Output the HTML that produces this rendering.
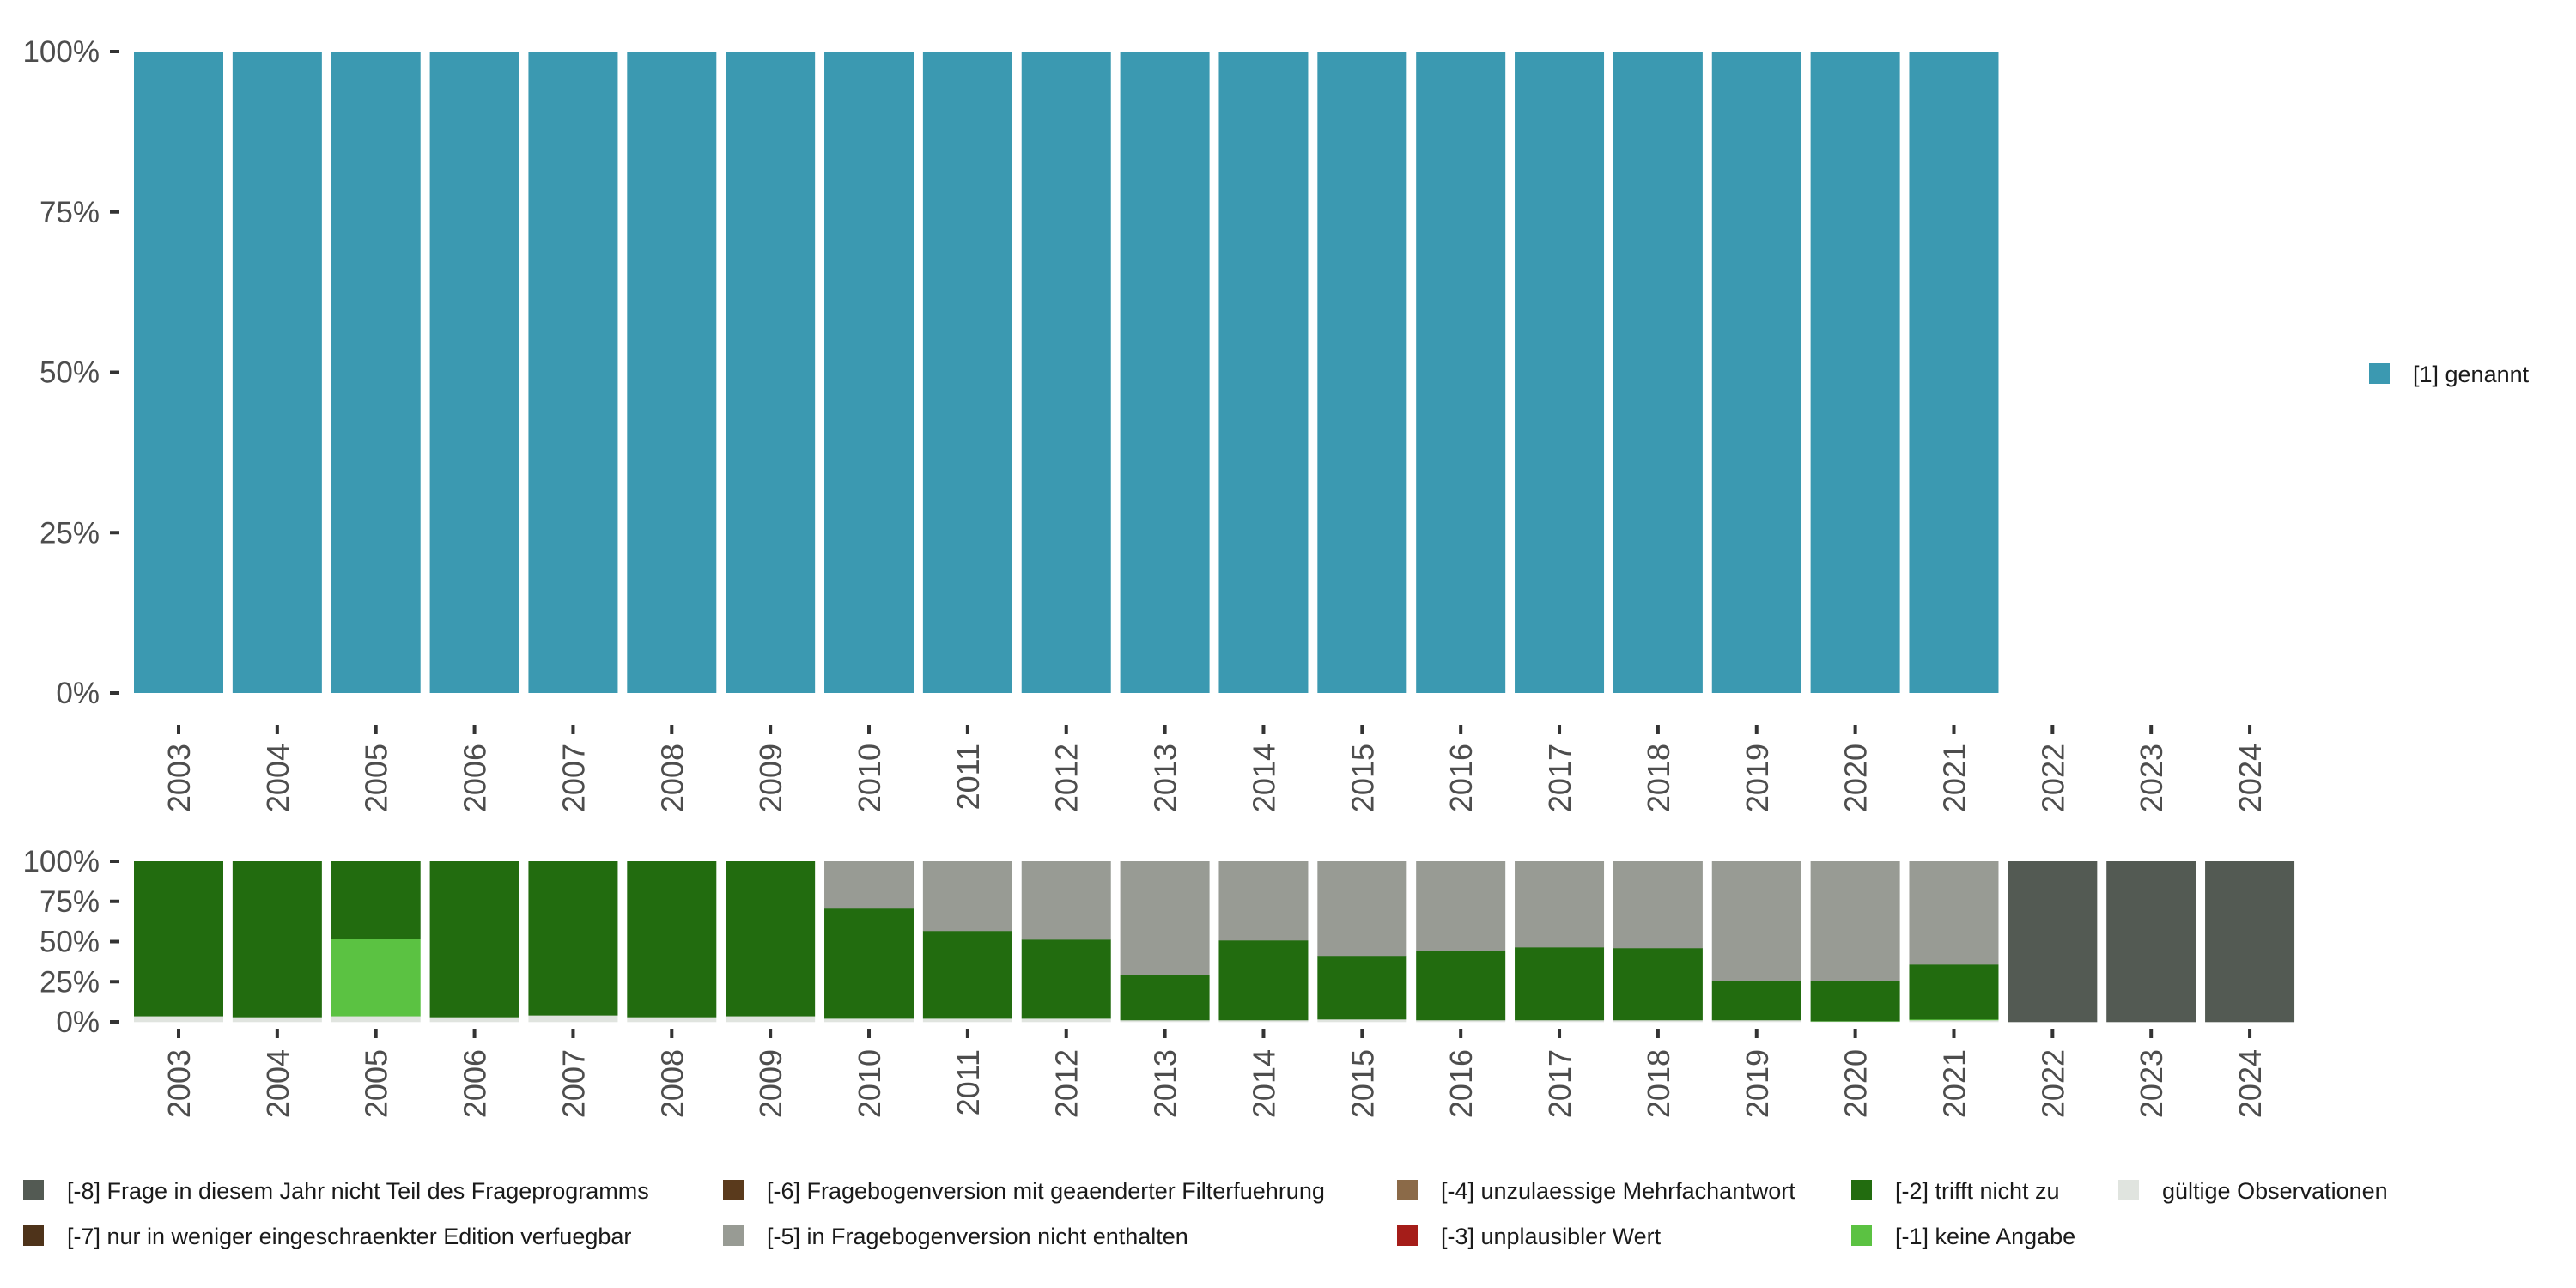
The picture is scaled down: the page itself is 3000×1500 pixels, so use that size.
<!DOCTYPE html>
<html><head><meta charset="utf-8"><style>
html,body{margin:0;padding:0;background:#fff;}
svg{display:block;font-family:"Liberation Sans",sans-serif;}
</style></head><body>
<svg id="chart" width="3000" height="1500" viewBox="0 0 3000 1500" xmlns="http://www.w3.org/2000/svg">
<g id="topPanel"></g>
<g id="botPanel"></g>
<g id="legend"></g>
</svg>
<script>
const years = ['2003','2004','2005','2006','2007','2008','2009','2010','2011','2012','2013','2014','2015','2016','2017','2018','2019','2020','2021','2022','2023','2024'];
const genannt = [100,100,100,100,100,100,100,100,100,100,100,100,100,100,100,100,100,100,100,0,0,0];
const validObs = [3.6,3.0,3.6,3.0,4.1,3.0,3.6,2.1,2.1,2.1,1.1,1.1,1.6,1.1,1.1,1.1,1.1,0.3,1.1,0,0,0];
const keineAngabe = [0,0,48.2,0,0,0,0,0,0,0,0,0,0,0,0,0,0,0.2,0.5,0,0,0];
const trifftNicht = [96.4,97.0,48.2,97.0,95.9,97.0,96.4,68.5,54.6,49.2,28.3,49.7,39.6,43.3,45.4,44.9,24.6,25.2,34.2,0,0,0];
const nichtEnthalten = [0,0,0,0,0,0,0,29.4,43.3,48.7,70.6,49.2,58.8,55.6,53.5,54.0,74.3,74.3,64.2,0,0,0];
const nichtTeil = [0,0,0,0,0,0,0,0,0,0,0,0,0,0,0,0,0,0,0,100,100,100];
const yTicks = [0,25,50,75,100];

const NS='http://www.w3.org/2000/svg';
function mk(tag, attrs, parent){const e=document.createElementNS(NS,tag);for(const k in attrs)e.setAttribute(k,attrs[k]);parent.appendChild(e);return e;}
const step=114.86, x0=156, bw=104;
function xPos(i){return x0+i*step;}
function xC(i){return xPos(i)+bw/2;}
function yTop(v){return 807-(v/100)*(807-60);}
function yBot(v){return 1190-(v/100)*(1190-1003);}

function axes(g, yf, tickY0, labY, tag){
  yTicks.forEach(t=>{
    const tk=mk('rect',{x:128,y:yf(t)-2,width:11,height:4,fill:'#333'},g);
    
    
    const tx=mk('text',{x:116,y:yf(t)+12,'text-anchor':'end','font-size':35,fill:'#4d4d4d'},g);
    tx.textContent=t+'%';
    
    
  });
  years.forEach((yr,i)=>{
    const tk=mk('rect',{x:xC(i)-2,y:tickY0,width:4,height:11,fill:'#333'},g);
    
    
    const tx=mk('text',{x:0,y:0,'text-anchor':'end','font-size':36,fill:'#4d4d4d',transform:`translate(${xC(i)+13},${labY}) rotate(-90)`},g);
    tx.textContent=yr;
    
    
  });
}

const topG=document.getElementById('topPanel');
genannt.forEach((v,i)=>{
  if(v<=0)return;
  const r=mk('rect',{x:xPos(i),y:yTop(v),width:bw,height:yTop(0)-yTop(v),fill:'#3b99b1'},topG);
  
  
});
axes(topG,yTop,844,866,'top');

const botG=document.getElementById('botPanel');
const series=[[validObs,'#e0e4df','valid'],[keineAngabe,'#5bc242','keine-angabe'],[trifftNicht,'#226c0f','trifft-nicht-zu'],[nichtEnthalten,'#989b94','nicht-enthalten'],[nichtTeil,'#535a53','nicht-teil']];
years.forEach((yr,i)=>{
  let cum=0;
  series.forEach(s=>{
    const v=s[0][i];
    if(v<=0)return;
    const r=mk('rect',{x:xPos(i),y:yBot(cum+v),width:bw,height:yBot(cum)-yBot(cum+v)+0.3,fill:s[1]},botG);
    
    
    cum+=v;
  });
});
axes(botG,yBot,1198,1222,'bottom');

const lg=document.getElementById('legend');
const legItems=[
 [27,1374,'#535a53','[-8] Frage in diesem Jahr nicht Teil des Frageprogramms'],
 [27,1427,'#4e331a','[-7] nur in weniger eingeschraenkter Edition verfuegbar'],
 [842,1374,'#5a3a1c','[-6] Fragebogenversion mit geaenderter Filterfuehrung'],
 [842,1427,'#989b94','[-5] in Fragebogenversion nicht enthalten'],
 [1627,1374,'#8b6a48','[-4] unzulaessige Mehrfachantwort'],
 [1627,1427,'#a51d19','[-3] unplausibler Wert'],
 [2156,1374,'#226c0f','[-2] trifft nicht zu'],
 [2156,1427,'#5bc242','[-1] keine Angabe'],
 [2467,1374,'#e0e4df','gültige Observationen'],
 [2759,423,'#3b99b1','[1] genannt']
];
legItems.forEach(it=>{
  const k=mk('rect',{x:it[0],y:it[1],width:24,height:24,fill:it[2]},lg);
  
  
  const t=mk('text',{x:it[0]+51,y:it[1]+22,'font-size':27,fill:'#1a1a1a'},lg);
  t.textContent=it[3];
  
  
});
</script>
</body></html>
